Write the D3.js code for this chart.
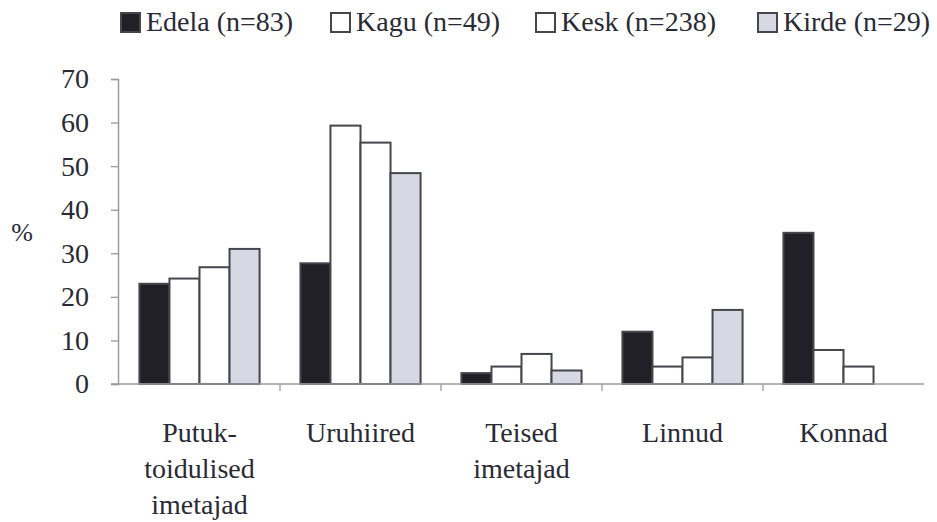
<!DOCTYPE html>
<html>
<head>
<meta charset="utf-8">
<script src="https://cdn.jsdelivr.net/npm/d3@7"></script>
<style>
  body { margin: 0; background: #fff; }
</style>
</head>
<body>
<svg id="chart" width="937" height="522"></svg>
<script>

/****************************/
/*          Data            */
/****************************/
const categories = [
  ["Putuk-", "toidulised", "imetajad"],
  ["Uruhiired"],
  ["Teised", "imetajad"],
  ["Linnud"],
  ["Konnad"]
];
const seriesNames = ["Edela (n=83)", "Kagu (n=49)", "Kesk (n=238)", "Kirde (n=29)"];
const edela = [23, 27.7, 2.5, 12, 34.7];
const kagu  = [24.2, 59.3, 4, 4, 7.8];
const kesk  = [26.8, 55.4, 6.9, 6.1, 4];
const kirde = [31, 48.4, 3.1, 17, 0];
const yTicks = [0, 10, 20, 30, 40, 50, 60, 70];

const seriesValues = [edela, kagu, kesk, kirde];
const fills = ["#202026", "#ffffff", "#ffffff", "#d8d8e4"];

const FONT = "'Liberation Serif', 'Times New Roman', serif";
const TEXT_COLOR = "#2a2a35";

/****************************/
/*         Layout           */
/****************************/
const svg = d3.select("#chart");
const plot = { left: 119, right: 924, top: 79, bottom: 384 };
const legendX = [120, 330, 535, 757];

const x0 = d3.scaleBand()
  .domain(d3.range(categories.length))
  .range([plot.left, plot.right]);

const x1 = d3.scaleBand()
  .domain(d3.range(seriesNames.length))
  .range([0, x0.bandwidth()])
  .paddingOuter(0.68);

const y = d3.scaleLinear()
  .domain([0, 70])
  .range([plot.bottom, plot.top]);

/****************************/
/*          Bars            */
/****************************/
const groups = svg.append("g")
  .selectAll("g")
  .data(categories)
  .join("g")
    .attr("transform", (_, i) => `translate(${x0(i)},0)`);

groups.selectAll("rect")
  .data((_, i) => seriesValues.map((s, j) => ({ s: j, v: s[i] })).filter(d => d.v > 0))
  .join("rect")
    .attr("x", d => x1(d.s))
    .attr("width", x1.bandwidth())
    .attr("y", d => y(d.v))
    .attr("height", d => y(0) - y(d.v))
    .attr("fill", d => fills[d.s])
    .attr("stroke", "#45454d")
    .attr("stroke-width", 2);

/****************************/
/*          Axes            */
/****************************/
const yAxis = svg.append("g")
  .attr("transform", `translate(${plot.left - 1},0)`)
  .call(d3.axisLeft(y).tickValues(yTicks).tickSize(7).tickPadding(22));

yAxis.select(".domain").attr("stroke", "#9a9aa0").attr("stroke-width", 1.5);
yAxis.selectAll(".tick line").attr("stroke", "#9a9aa0").attr("stroke-width", 1.3);
yAxis.selectAll(".tick text")
  .attr("fill", TEXT_COLOR)
  .style("font-family", FONT)
  .style("font-size", "28px");

const xAxis = svg.append("g")
  .attr("transform", `translate(0,${plot.bottom})`);

xAxis.append("line")
  .attr("x1", plot.left - 8)
  .attr("x2", plot.right)
  .attr("stroke", "#9a9aa0")
  .attr("stroke-width", 1.5);

xAxis.selectAll(".sep")
  .data(d3.range(1, categories.length))
  .join("line")
    .attr("class", "sep")
    .attr("x1", i => x0(i))
    .attr("x2", i => x0(i))
    .attr("y1", 0)
    .attr("y2", 7)
    .attr("stroke", "#9a9aa0")
    .attr("stroke-width", 1.3);

const catLabels = svg.append("g")
  .selectAll("text")
  .data(categories)
  .join("text")
    .attr("x", (_, i) => x0(i) + x0.bandwidth() / 2)
    .attr("y", 442)
    .attr("text-anchor", "middle")
    .attr("fill", TEXT_COLOR)
    .style("font-family", FONT)
    .style("font-size", "28px");

catLabels.selectAll("tspan")
  .data(d => d)
  .join("tspan")
    .attr("x", function() { return d3.select(this.parentNode).attr("x"); })
    .attr("dy", (_, i) => i === 0 ? 0 : 36)
    .text(d => d);

svg.append("text")
  .attr("x", 22)
  .attr("y", 241)
  .attr("text-anchor", "middle")
  .attr("fill", TEXT_COLOR)
  .style("font-family", FONT)
  .style("font-size", "26px")
  .text("%");

/****************************/
/*         Legend           */
/****************************/
const legendItems = svg.append("g")
  .selectAll("g")
  .data(seriesNames)
  .join("g")
    .attr("transform", (_, i) => `translate(${legendX[i]},0)`);

legendItems.append("rect")
  .attr("x", 1)
  .attr("y", 13)
  .attr("width", 19)
  .attr("height", 19)
  .attr("fill", (_, i) => fills[i])
  .attr("stroke", "#45454d")
  .attr("stroke-width", 2);

legendItems.append("text")
  .attr("x", 26)
  .attr("y", 31)
  .attr("fill", TEXT_COLOR)
  .style("font-family", FONT)
  .style("font-size", "28px")
  .text(d => d);

</script>
</body>
</html>
